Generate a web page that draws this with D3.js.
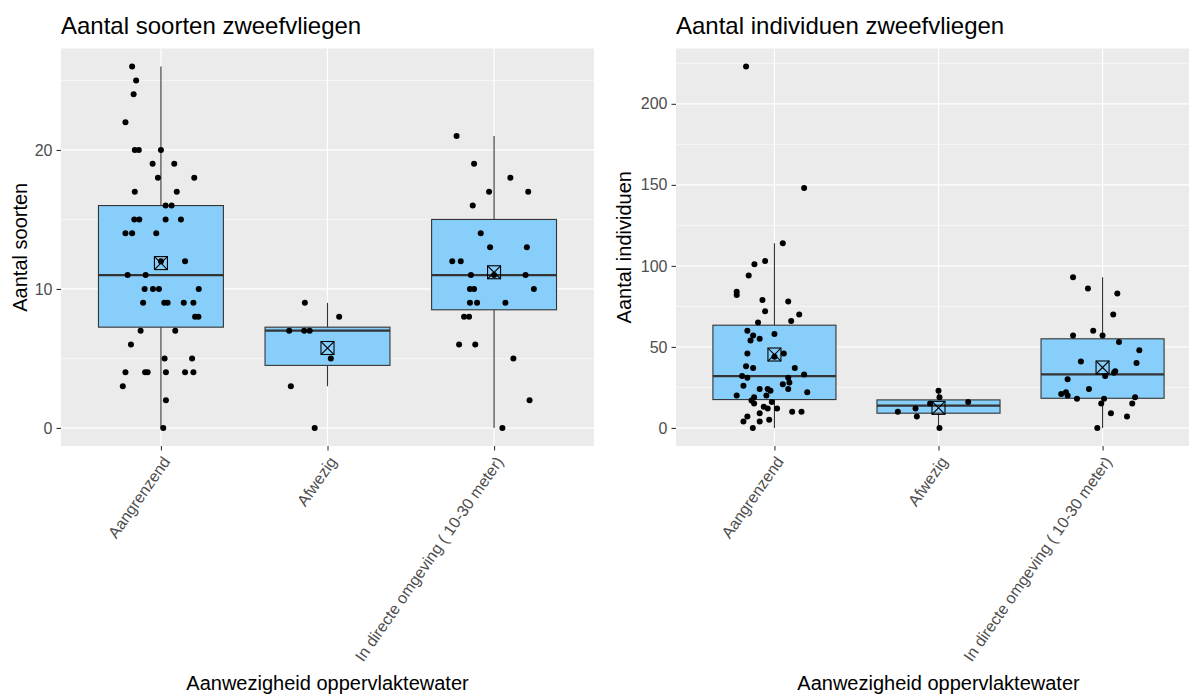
<!DOCTYPE html>
<html>
<head>
<meta charset="utf-8">
<script src="https://cdn.jsdelivr.net/npm/d3@7"></script>
<style>
  body { margin: 0; background: #ffffff; }
  text { font-family: "Liberation Sans", Arial, Helvetica, sans-serif; }
</style>
</head>
<body>
<svg id="chart" width="1189" height="696"></svg>
<script>
// Categories (presence of surface water)
const categories = ["Aangrenzend", "Afwezig", "In directe omgeving ( 10-30 meter)"];

// Number of hoverfly species per site: [value, horizontal jitter as fraction of category step]
const soortenAangrenzend = [
  [26,-0.173],[25,-0.149],[24,-0.164],[22,-0.213],
  [20,-0.157],[20,-0.133],[20,0.0],
  [19,-0.05],[19,0.08],[18,-0.018],[18,0.2],[17,-0.157],[17,0.095],
  [16,0.028],[16,0.064],[15,-0.16],[15,-0.13],[15,0.028],[15,0.12],
  [14,-0.213],[14,-0.173],[14,-0.028],[12,0.145],[12,0.0],[11,-0.2],[11,-0.092],
  [10,-0.098],[10,-0.048],[10,-0.012],[10,0.227],
  [9,-0.107],[9,0.02],[9,0.04],[9,0.137],[9,0.195],
  [8,0.205],[8,0.225],[7,-0.122],[7,0.086],[6,-0.18],[5,0.022],[5,0.187],
  [4,-0.213],[4,-0.095],[4,-0.08],[4,0.03],[4,0.145],[4,0.195],[3,-0.229],[2,0.03],[0,0.014]
];
const soortenAfwezig = [
  [9,-0.136],[8,0.07],[7,-0.23],[7,-0.14],[7,-0.107],[5,0.02],[3,-0.22],[0,-0.077]
];
const soortenDirecteOmgeving = [
  [21,-0.225],[19,-0.12],[18,0.098],[17,-0.03],[17,0.205],[16,-0.128],[14,-0.08],
  [13,-0.024],[13,0.197],[12,-0.251],[12,-0.2],[11,-0.139],[11,0.0],[11,0.189],
  [10,-0.145],[10,-0.12],[10,0.239],[9,-0.145],[9,-0.102],[9,0.068],[8,-0.18],[8,-0.15],
  [6,-0.21],[6,-0.113],[5,0.116],[2,0.213],[0,0.05]
];

// Box summaries for species counts, per category
const soortenQ1 = [7.25, 4.5, 8.5];
const soortenMedian = [11, 7, 11];
const soortenQ3 = [16, 7.25, 15];
const soortenWhiskerLow = [0, 3, 0];
const soortenWhiskerHigh = [26, 9, 21];
const soortenMean = [11.86, 5.75, 11.2];
const soortenTicks = [0, 10, 20];
const soortenMinorTicks = [5, 15, 25];

// Number of hoverfly individuals per site: [value, horizontal jitter]
const individuenAangrenzend = [
  [223,-0.173],[148,0.181],[114,0.051],[103,-0.057],[101,-0.122],[94,-0.157],
  [84,-0.23],[82,-0.23],[79,-0.073],[78,0.084],[72,-0.057],[70,0.151],[66,0.102],
  [65,-0.1],[60,-0.165],[58,0.0],[57,-0.13],[55,-0.09],[54,-0.146],[46,-0.165],
  [46,0.057],[44,0.0],[38,-0.173],[37,-0.13],[37,0.124],[33,0.181],[32,-0.197],
  [31,-0.165],[31,0.084],[28,0.091],[27,0.051],[26,-0.189],[24,-0.09],[24,-0.041],
  [24,0.084],[23,-0.024],[22,0.2],[20,-0.049],[20,-0.23],[19,-0.124],[17,-0.14],
  [16,-0.016],[15,-0.124],[13,-0.065],[12,-0.041],[12,0.016],[10,0.108],[10,0.165],
  [9,-0.09],[7,-0.165],[5,-0.032],[4,-0.189],[4,-0.09],[0,-0.132]
];
const individuenAfwezig = [
  [23,0.0],[19,0.006],[16,0.181],[15,-0.051],[12,-0.14],[10,-0.248],[7,-0.132],[0,0.006]
];
const individuenDirecteOmgeving = [
  [93,-0.18],[86,-0.089],[83,0.09],[70,0.065],[60,-0.057],[57,-0.18],[57,0.0],
  [53,0.1],[48,0.224],[41,-0.132],[40,0.207],[35,0.077],[34,0.07],[32,0.016],
  [30,-0.213],[24,-0.083],[22,-0.223],[21,-0.252],[20,-0.213],[19,0.198],[18,-0.156],
  [18,0.009],[15,-0.008],[15,0.181],[9,0.051],[7,0.149],[0,-0.032]
];

// Box summaries for individual counts, per category
const individuenQ1 = [17.5, 9.1, 18.3];
const individuenMedian = [32, 13.8, 33];
const individuenQ3 = [63.4, 17.3, 55];
const individuenWhiskerLow = [0, 0, 0];
const individuenWhiskerHigh = [114, 23, 93];
const individuenMean = [45.3, 12.4, 37.3];
const individuenTicks = [0, 50, 100, 150, 200];
const individuenMinorTicks = [25, 75, 125, 175, 225];

const svg = d3.select("#chart");

function drawPanel(cfg) {
  const { left, right, top, bottom } = cfg;
  const g = svg.append("g");

  const x = d3.scalePoint().domain(categories).range([left, right]).padding(0.6);
  const step = x.step();
  const y = d3.scaleLinear().domain(cfg.yDomain).range([bottom, top]);

  // clip region for the panel contents
  const clipId = "clip-" + cfg.id;
  svg.append("clipPath").attr("id", clipId)
    .append("rect").attr("x", left).attr("y", top)
    .attr("width", right - left).attr("height", bottom - top);

  // panel background
  g.append("rect").attr("x", left).attr("y", top)
    .attr("width", right - left).attr("height", bottom - top)
    .attr("fill", "#EBEBEB");

  const inner = g.append("g").attr("clip-path", `url(#${clipId})`);

  // minor and major grid lines
  inner.selectAll("line.minor").data(cfg.minorTicks).join("line")
    .attr("x1", left).attr("x2", right)
    .attr("y1", d => y(d)).attr("y2", d => y(d))
    .attr("stroke", "#ffffff").attr("stroke-width", 0.6);
  inner.selectAll("line.major").data(cfg.ticks).join("line")
    .attr("x1", left).attr("x2", right)
    .attr("y1", d => y(d)).attr("y2", d => y(d))
    .attr("stroke", "#ffffff").attr("stroke-width", 1.2);
  inner.selectAll("line.vmajor").data(categories).join("line")
    .attr("x1", d => x(d)).attr("x2", d => x(d))
    .attr("y1", top).attr("y2", bottom)
    .attr("stroke", "#ffffff").attr("stroke-width", 1.2);

  const boxW = step * 0.75;
  const stats = categories.map((c, i) => ({
    cat: c, q1: cfg.q1[i], med: cfg.median[i], q3: cfg.q3[i],
    lo: cfg.low[i], hi: cfg.high[i], mean: cfg.mean[i]
  }));

  // whiskers
  inner.selectAll("line.wh-up").data(stats).join("line")
    .attr("x1", d => x(d.cat)).attr("x2", d => x(d.cat))
    .attr("y1", d => y(d.q3)).attr("y2", d => y(d.hi))
    .attr("stroke", "#333333").attr("stroke-width", 1.1);
  inner.selectAll("line.wh-lo").data(stats).join("line")
    .attr("x1", d => x(d.cat)).attr("x2", d => x(d.cat))
    .attr("y1", d => y(d.q1)).attr("y2", d => y(d.lo))
    .attr("stroke", "#333333").attr("stroke-width", 1.1);

  // boxes
  inner.selectAll("rect.box").data(stats).join("rect")
    .attr("x", d => x(d.cat) - boxW / 2).attr("width", boxW)
    .attr("y", d => y(d.q3)).attr("height", d => y(d.q1) - y(d.q3))
    .attr("fill", "#87CEFA").attr("stroke", "#333333").attr("stroke-width", 1.1);

  // medians
  inner.selectAll("line.med").data(stats).join("line")
    .attr("x1", d => x(d.cat) - boxW / 2).attr("x2", d => x(d.cat) + boxW / 2)
    .attr("y1", d => y(d.med)).attr("y2", d => y(d.med))
    .attr("stroke", "#333333").attr("stroke-width", 2.2);

  // mean markers: square with a cross
  const ms = 6.5;
  const mean = inner.selectAll("g.mean").data(stats).join("g")
    .attr("transform", d => `translate(${x(d.cat)},${y(d.mean)})`);
  mean.append("rect").attr("x", -ms).attr("y", -ms).attr("width", 2 * ms).attr("height", 2 * ms)
    .attr("fill", "none").attr("stroke", "#000").attr("stroke-width", 1.1);
  mean.append("path").attr("d", `M${-ms},${-ms}L${ms},${ms}M${ms},${-ms}L${-ms},${ms}`)
    .attr("stroke", "#000").attr("stroke-width", 1.1);

  // jittered observations
  const pts = [];
  cfg.points.forEach((arr, i) => arr.forEach(p => pts.push({ cat: categories[i], v: p[0], j: p[1] })));
  inner.selectAll("circle.pt").data(pts).join("circle")
    .attr("cx", d => x(d.cat) + d.j * step)
    .attr("cy", d => y(d.v))
    .attr("r", 3).attr("fill", "#000");

  // y axis
  const yAxis = g.append("g").attr("transform", `translate(${left},0)`)
    .call(d3.axisLeft(y).tickValues(cfg.ticks).tickSize(4.5).tickPadding(4).tickFormat(d3.format("d")));
  yAxis.select(".domain").remove();
  yAxis.selectAll("line").attr("stroke", "#333333").attr("stroke-width", 1.1);
  yAxis.selectAll("text").attr("fill", "#4D4D4D").style("font-size", "16px");

  // x axis
  const xAxis = g.append("g").attr("transform", `translate(0,${bottom})`)
    .call(d3.axisBottom(x).tickSize(4.5).tickPadding(0));
  xAxis.select(".domain").remove();
  xAxis.selectAll("line").attr("stroke", "#333333").attr("stroke-width", 1.1);
  xAxis.selectAll("text")
    .attr("fill", "#4D4D4D").style("font-size", "16px")
    .attr("text-anchor", "end")
    .attr("x", 0).attr("y", 0).attr("dy", "0.72em")
    .attr("transform", "translate(0,9) rotate(-55)");

  // titles
  svg.append("text").attr("x", left).attr("y", 34)
    .attr("fill", "#000").style("font-size", "24px").text(cfg.title);
  svg.append("text")
    .attr("transform", `translate(${cfg.yTitleX},${(top + bottom) / 2}) rotate(-90)`)
    .attr("text-anchor", "middle").attr("fill", "#000").style("font-size", "20px")
    .text(cfg.yTitle);
  svg.append("text").attr("x", (left + right) / 2).attr("y", 690)
    .attr("text-anchor", "middle").attr("fill", "#000").style("font-size", "20px")
    .text("Aanwezigheid oppervlaktewater");
}

drawPanel({
  id: "soorten", left: 61, right: 594, top: 48.5, bottom: 446,
  yDomain: [-1.3, 27.3], ticks: soortenTicks, minorTicks: soortenMinorTicks,
  title: "Aantal soorten zweefvliegen", yTitle: "Aantal soorten", yTitleX: 27,
  points: [soortenAangrenzend, soortenAfwezig, soortenDirecteOmgeving],
  q1: soortenQ1, median: soortenMedian, q3: soortenQ3,
  low: soortenWhiskerLow, high: soortenWhiskerHigh, mean: soortenMean
});

drawPanel({
  id: "individuen", left: 676, right: 1201, top: 48.5, bottom: 446,
  yDomain: [-11.15, 234.15], ticks: individuenTicks, minorTicks: individuenMinorTicks,
  title: "Aantal individuen zweefvliegen", yTitle: "Aantal individuen", yTitleX: 631,
  points: [individuenAangrenzend, individuenAfwezig, individuenDirecteOmgeving],
  q1: individuenQ1, median: individuenMedian, q3: individuenQ3,
  low: individuenWhiskerLow, high: individuenWhiskerHigh, mean: individuenMean
});
</script>
</body>
</html>
